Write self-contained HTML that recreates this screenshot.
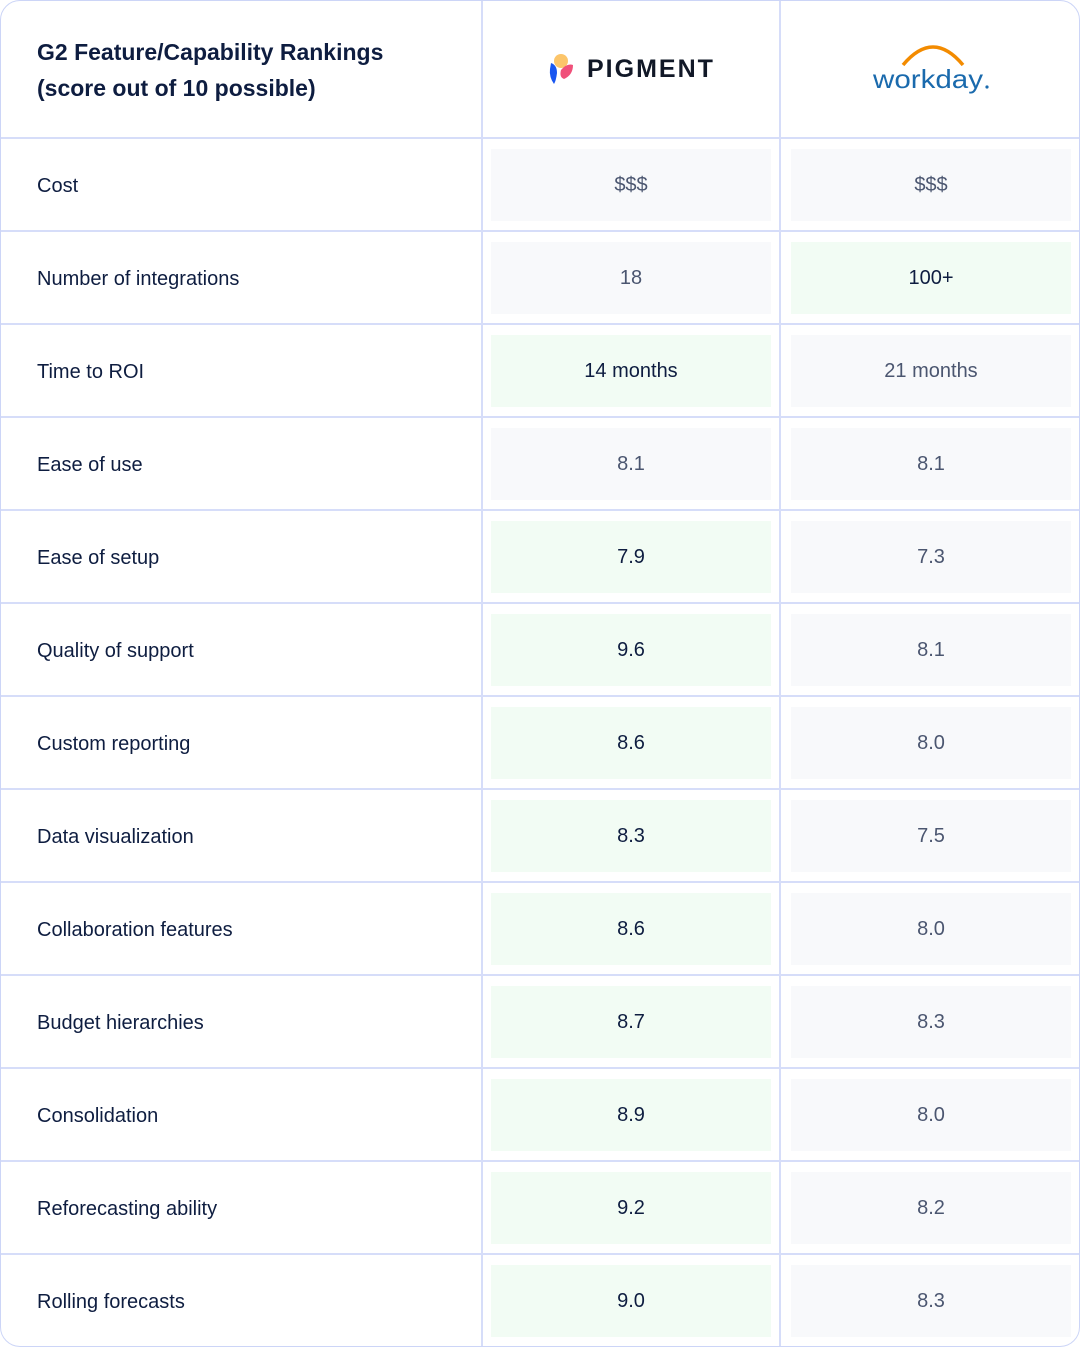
<!DOCTYPE html>
<html><head><meta charset="utf-8"><style>
body{margin:0;width:1080px;height:1347px;background:#fff;font-family:"Liberation Sans",sans-serif;overflow:hidden}
#t{position:absolute;left:0;top:0;width:1078px;height:1345px;border:1px solid #ccd5f7;border-radius:20px;overflow:hidden}
.vl{position:absolute;top:0;width:2px;height:1347px;background:#d6ddf9}
.hl{position:absolute;left:0;width:1080px;height:2px;background:#d6ddf9}
.lab{position:absolute;left:36px;font-size:20px;color:#0e1d40}
.c{position:absolute;height:72px;display:flex;align-items:center;justify-content:center;font-size:20px}
</style></head><body>
<div id="t">
<div class="vl" style="left:480px"></div>
<div class="vl" style="left:778px"></div>
<div style="position:absolute;left:36px;top:33px;font-size:23px;font-weight:bold;color:#0e1d40;line-height:36px">G2 Feature/Capability Rankings<br>(score out of 10 possible)</div>
<div style="position:absolute;left:548px;top:52px;display:flex;align-items:center">
<svg width="28" height="32" viewBox="0 0 28 32"><circle cx="12" cy="8" r="7" fill="#fcc56a"/><path d="M2 10 Q8 12 8 20 Q7 28 5 31 Q0 24 1 16Z" fill="#1856f0"/><path d="M12 17 Q18 10 24 12 Q24 22 15 26 Q10 24 12 17Z" fill="#f0507a"/></svg>
<span style="font-size:25px;font-weight:bold;letter-spacing:2px;color:#111827;margin-left:10px">PIGMENT</span></div>
<div style="position:absolute;left:870px;top:40px">
<svg width="125" height="55" viewBox="0 0 125 55"><path d="M32 24 Q62 -12 92 24" stroke="#f38b00" stroke-width="3.5" fill="none"/><text x="2" y="47" font-size="26" textLength="110" lengthAdjust="spacingAndGlyphs" font-family="Liberation Sans,sans-serif" fill="#1a6aad">workday</text><circle cx="116" cy="46" r="1.6" fill="#1a6aad"/></svg></div>
<div id="rows"></div>
</div>
<script>
const labels=["Cost","Number of integrations","Time to ROI","Ease of use","Ease of setup","Quality of support","Custom reporting","Data visualization","Collaboration features","Budget hierarchies","Consolidation","Reforecasting ability","Rolling forecasts"];
const pigment=["$$$","18","14 months","8.1","7.9","9.6","8.6","8.3","8.6","8.7","8.9","9.2","9.0"];
const workday=["$$$","100+","21 months","8.1","7.3","8.1","8.0","7.5","8.0","8.3","8.0","8.2","8.3"];
const winner=["","w","p","","p","p","p","p","p","p","p","p","p"];
const R=document.getElementById('rows');
labels.forEach((l,i)=>{
 const y=137+i*93;
 const h=document.createElement('div');h.className='hl';h.style.top=(y-1)+'px';
 
 R.appendChild(h);
 const a=document.createElement('div');a.className='lab';a.style.top=(y+37)+'px';a.textContent=l;
 
 R.appendChild(a);
 [[pigment,490,'p'],[workday,790,'w']].forEach(([arr,x,k])=>{
  const c=document.createElement('div');c.className='c';
  const win=winner[i]===k;
  c.style.left=x+'px';c.style.top=(y+11)+'px';c.style.width='280px';
  c.style.background=win?'#f2fcf4':'#f8f9fb';c.style.color=win?'#0e1d40':'#4b5670';
  c.textContent=arr[i];
  
  R.appendChild(c);
 });
});
</script>
</body></html>
